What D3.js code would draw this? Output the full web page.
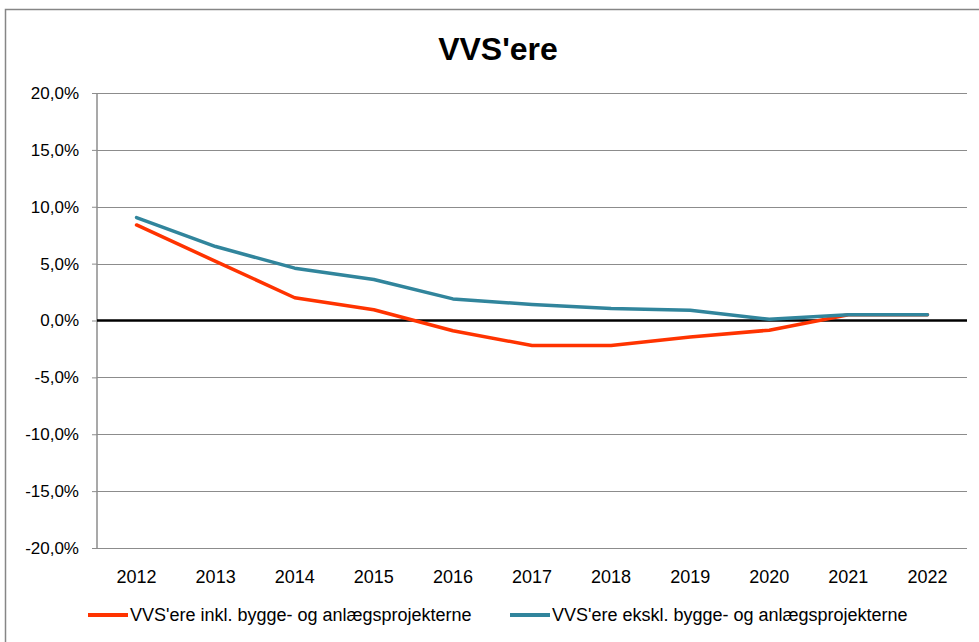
<!DOCTYPE html>
<html>
<head>
<meta charset="utf-8">
<script src="https://cdn.jsdelivr.net/npm/d3@7"></script>
<style>
  body { margin: 0; background: #fff; }
  svg { display: block; font-family: "Liberation Sans", Arial, sans-serif; }
</style>
</head>
<body>
<svg width="979" height="642"></svg>
<script>
// Données du graphique
var annees = ["2012", "2013", "2014", "2015", "2016", "2017", "2018", "2019", "2020", "2021", "2022"];
var inkl = [8.4, 5.2, 2.0, 0.95, -0.9, -2.2, -2.2, -1.45, -0.85, 0.5, 0.5];
var ekskl = [9.05, 6.5, 4.6, 3.6, 1.9, 1.4, 1.05, 0.9, 0.1, 0.5, 0.5];
var ticksY = [-20, -15, -10, -5, 0, 5, 10, 15, 20];
var series = [
  { nom: "VVS'ere inkl. bygge- og anlægsprojekterne", valeurs: inkl, couleur: "#ff3300" },
  { nom: "VVS'ere ekskl. bygge- og anlægsprojekterne", valeurs: ekskl, couleur: "#31859c" }
];

var svg = d3.select("svg");
var margin = { top: 93, right: 12, bottom: 94, left: 97 },
    width = 979 - margin.left - margin.right,
    height = 642 - margin.top - margin.bottom;

// Cadre extérieur
svg.append("rect")
  .attr("x", 5.5).attr("y", 9.5)
  .attr("width", 1000).attr("height", 700)
  .attr("fill", "none").attr("stroke", "#868686").attr("stroke-width", 1.5);

// Titre
svg.append("text")
  .attr("x", 498).attr("y", 60)
  .attr("text-anchor", "middle")
  .style("font-size", "32px").style("font-weight", "bold")
  .text("VVS'ere");

var g = svg.append("g").attr("transform", "translate(" + margin.left + "," + margin.top + ")");

var x = d3.scaleBand().domain(annees).range([0, width]);
var y = d3.scaleLinear().domain([-20, 20]).range([height, 0]);

// Grille horizontale
g.selectAll(".grid").data(ticksY.filter(d => d !== 0))
  .enter().append("line")
  .attr("x1", 0).attr("x2", width)
  .attr("y1", d => Math.round(y(d)) + 0.5).attr("y2", d => Math.round(y(d)) + 0.5)
  .attr("stroke", "#8c8c8c").attr("stroke-width", 1);

// Axe Y
var axeY = g.append("g")
  .call(d3.axisLeft(y).tickValues(ticksY).tickSize(5).tickPadding(13)
    .tickFormat(d => d3.format(".1f")(d).replace(".", ",").replace("\u2212", "-") + "%"));
axeY.select(".domain").attr("stroke", "#8c8c8c").attr("stroke-width", 1.5).attr("d", "M0,0V" + height);
axeY.selectAll(".tick line").attr("stroke", "#8c8c8c");
axeY.selectAll("text").style("font-size", "17px").attr("fill", "#000");

// Ligne du zéro
g.append("line")
  .attr("x1", 0).attr("x2", width)
  .attr("y1", y(0)).attr("y2", y(0))
  .attr("stroke", "#000").attr("stroke-width", 2.5);

// Etiquettes des années
g.selectAll(".annee").data(annees)
  .enter().append("text")
  .attr("x", d => x(d) + x.bandwidth() / 2)
  .attr("y", height + 35)
  .attr("text-anchor", "middle")
  .style("font-size", "18px")
  .text(d => d);

// Courbes
var ligne = d3.line()
  .x((d, i) => x(annees[i]) + x.bandwidth() / 2)
  .y(d => y(d));

g.selectAll(".serie").data(series)
  .enter().append("path")
  .attr("d", d => ligne(d.valeurs))
  .attr("fill", "none")
  .attr("stroke", d => d.couleur)
  .attr("stroke-width", 3.5)
  .attr("stroke-linejoin", "round")
  .attr("stroke-linecap", "round");

// Légende
var legendeX = [88, 510];
var legende = svg.selectAll(".legende").data(series)
  .enter().append("g")
  .attr("transform", (d, i) => "translate(" + legendeX[i] + ",615)");
legende.append("line")
  .attr("x1", 0).attr("x2", 40)
  .attr("stroke", d => d.couleur).attr("stroke-width", 4);
legende.append("text")
  .attr("x", 42).attr("y", 6)
  .style("font-size", "18px")
  .text(d => d.nom);
</script>
</body>
</html>
